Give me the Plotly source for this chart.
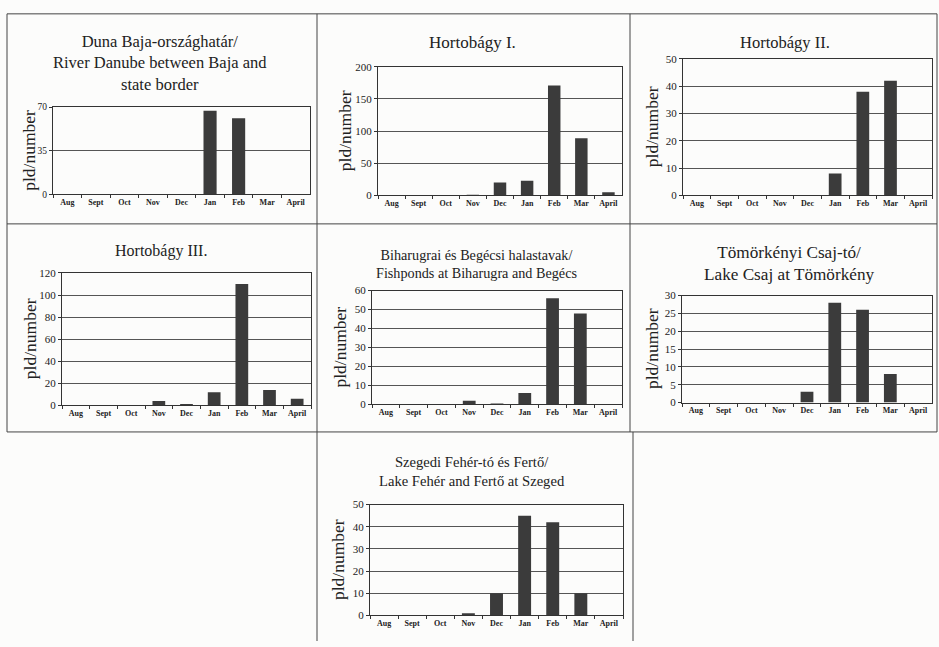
import plotly.graph_objects as go

W, H = 939, 647
months = ["Aug", "Sept", "Oct", "Nov", "Dec", "Jan", "Feb", "Mar", "April"]

duna = [0, 0, 0, 0, 0, 67, 61, 0, 0]
hort1 = [0, 0, 0, 0.5, 20, 23, 171, 89, 5]
hort2 = [0, 0, 0, 0, 0, 8, 38, 42, 0]
hort3 = [0, 0, 0, 4, 0.5, 12, 110, 14, 6]
bihar = [0, 0, 0, 2, 0.3, 6, 56, 48, 0]
tomor = [0, 0, 0, 0, 3, 28, 26, 8, 0]
szeged = [0, 0, 0, 1, 10, 45, 42, 10, 0]

titles = [
    "Duna Baja-országhatár/<br>River Danube between Baja and<br>state border",
    "Hortobágy I.",
    "Hortobágy II.",
    "Hortobágy III.",
    "Biharugrai és Begécsi halastavak/<br>Fishponds at Biharugra and Begécs",
    "Tömörkényi Csaj-tó/<br>Lake Csaj at Tömörkény",
    "Szegedi Fehér-tó és Fertő/<br>Lake Fehér and Fertő at Szeged",
]
series = [duna, hort1, hort2, hort3, bihar, tomor, szeged]
yticks = [
    [0, 35, 70],
    [0, 50, 100, 150, 200],
    [0, 10, 20, 30, 40, 50],
    [0, 20, 40, 60, 80, 100, 120],
    [0, 10, 20, 30, 40, 50, 60],
    [0, 5, 10, 15, 20, 25, 30],
    [0, 10, 20, 30, 40, 50],
]

# plot area pixel boxes: (left, right, top, bottom)
boxes = [
    (53, 310, 103, 192),
    (378, 622, 62, 193),
    (683, 932, 54, 193),
    (62, 311, 272, 407),
    (372, 622, 290, 406),
    (682, 932, 295, 404),
    (370, 623, 508, 621),
]
bar_w = 0.46
ytick_size = [9.5, 11, 11, 11, 11, 11, 11]
# title positions: (center x, center y, font size)
title_pos = [(160, 58, 16.5), (473, 37, 17), (785, 37, 16.5), (161, 250, 16),
             (476, 263, 14.2), (789, 262, 17.2), (472, 474, 14.6)]
ytitle_x = [29, 345, 652, 30, 340, 652, 338]

def px(x):
    return x / W

def py(y):
    return 1 - y / H

fig = go.Figure()
layout = dict(
    width=W, height=H,
    margin=dict(l=0, r=0, t=0, b=0),
    paper_bgcolor="#fcfcfb",
    plot_bgcolor="#fcfcfb",
    showlegend=False,
    font=dict(family="Liberation Serif, Times New Roman, serif", color="#222"),
    annotations=[],
    shapes=[],
)

serif = "Liberation Serif, Times New Roman, serif"
for i in range(7):
    n = "" if i == 0 else str(i + 1)
    l, r, t, b = boxes[i]
    fig.add_trace(go.Bar(
        x=months, y=series[i], width=bar_w,
        marker=dict(color="#3b3b3b", line=dict(width=0)),
        xaxis="x" + n, yaxis="y" + n,
    ))
    ymax = yticks[i][-1]
    layout["xaxis" + n] = dict(
        domain=[px(l), px(r)], anchor="y" + n,
        showline=True, linecolor="#333", linewidth=1, mirror=True,
        showgrid=False, ticks="outside", ticklen=3, tickcolor="#333",
        tickson="boundaries", tickangle=0,
        tickfont=dict(family=serif, size=8, color="#222", weight="bold"),
        fixedrange=True,
    )
    layout["yaxis" + n] = dict(
        domain=[py(b), py(t)], anchor="x" + n,
        range=[0, ymax], tickvals=yticks[i],
        showline=True, linecolor="#333", linewidth=1, mirror=True,
        showgrid=True, gridcolor="#555", gridwidth=1,
        ticks="outside", ticklen=3, tickcolor="#333",
        tickfont=dict(family=serif, size=ytick_size[i], color="#222"),
        zeroline=False, fixedrange=True,
    )
    cx, cy, fs = title_pos[i]
    layout["annotations"].append(dict(
        text=titles[i], xref="paper", yref="paper", x=px(cx), y=py(cy),
        xanchor="center", yanchor="middle", showarrow=False,
        font=dict(family=serif, size=fs, color="#222"), align="center",
    ))
    layout["annotations"].append(dict(
        text="pld/number", xref="paper", yref="paper",
        x=px(ytitle_x[i]), y=py((t + b) / 2), textangle=-90,
        xanchor="center", yanchor="middle", showarrow=False,
        font=dict(family=serif, size=17.5, color="#222"),
    ))

# panel frame lines
line = dict(color="#444", width=1)
segs = [
    (7, 8, 937, 8),
    (7, 222, 937, 222),
    (7, 434, 937, 434),
    (7, 8, 7, 434),
    (937, 8, 937, 434),
    (317, 8, 317, 647),
    (630, 8, 630, 434),
    (633, 434, 633, 647),
]
for x0, y0, x1, y1 in segs:
    layout["shapes"].append(dict(type="line", xref="paper", yref="paper",
                                 x0=px(x0), y0=py(y0), x1=px(x1), y1=py(y1),
                                 line=line))

fig.update_layout(**layout)
fig.write_html(
    "out.html",
    config={"displayModeBar": False},
    post_script="document.body.style.margin='0';document.body.style.overflow='hidden';",
)
